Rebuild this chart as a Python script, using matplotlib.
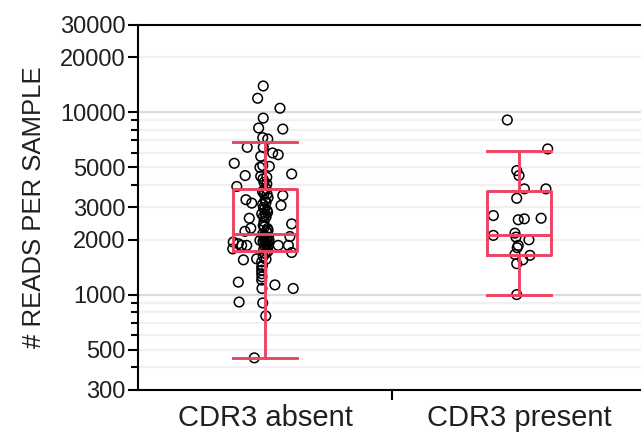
import numpy as np
import matplotlib.pyplot as plt
from matplotlib.ticker import FixedLocator, NullFormatter

plt.rcParams['font.family'] = ['Liberation Sans', 'DejaVu Sans']

categories = ['CDR3 absent', 'CDR3 present']

# reads per sample, with the horizontal jitter
absent_reads = [13900, 11900, 10500, 9270, 8180, 8070, 7240, 7120, 6410, 6410,
                5970, 5840, 5720, 5240, 5090, 5040, 4490, 4580, 4450, 4400,
                4300, 4120, 3910, 4040, 3565, 3310, 3170, 3490, 3080, 3130,
                2770, 2620, 2660, 2310, 2390, 2440, 2220, 2150, 2080, 1940,
                1900, 1860, 1860, 1780, 1980, 1940, 1860, 1860, 1860, 1700,
                1550, 1570, 1510, 1170, 1130, 1080, 910, 900, 764, 450,
                1420, 1360, 1300, 1250, 1200, 1080, 3810, 3670, 3400, 3275,
                3000, 2890, 2750, 2515, 2300, 2220, 2110, 2055, 2005, 1955,
                1905, 1815, 1770, 1725, 1680, 1620, 1560, 1445, 4980,
                2180, 2100, 2030, 1980, 1930, 1880, 2250, 2350,
                3720, 3550, 3200, 2950, 2820, 2680]
absent_jitter = [-0.007, -0.029, 0.059, -0.007, -0.025, 0.070, -0.009, 0.011, -0.070, -0.007,
                 0.030, 0.052, -0.017, -0.121, -0.009, 0.017, -0.078, 0.105, -0.017, 0.007,
                 -0.008, -0.004, -0.111, 0.007, -0.004, -0.075, -0.052, 0.070, 0.063, -0.009,
                 -0.013, -0.062, 0.004, -0.056, -0.007, 0.105, -0.079, -0.009, 0.098, -0.125,
                 -0.105, -0.092, -0.072, -0.127, -0.020, 0.000, 0.013, 0.052, 0.092, 0.105,
                 -0.085, -0.033, -0.013, -0.105, 0.039, 0.111, -0.102, -0.009, 0.003, -0.042,
                 -0.013, -0.013, -0.013, -0.012, -0.013, -0.012, 0.004, -0.010, 0.012, 0.000,
                 -0.006, 0.008, 0.002, -0.004, 0.010, 0.005, -0.002, 0.014, 0.006, -0.008,
                 0.009, 0.002, -0.005, 0.011, 0.000, -0.007, 0.004, -0.010, -0.020,
                 0.010, -0.004, 0.006, 0.016, -0.006, 0.004, 0.012, -0.002,
                 -0.004, 0.008, 0.004, -0.002, 0.010, -0.006]

present_reads = [9050, 6280, 4780, 4490, 3795, 3795, 3370, 2710, 2570, 2600,
                 2620, 2110, 2170, 2065, 1995, 1860, 1807, 1660, 1640, 1550,
                 1477, 1000]
present_jitter = [-0.046, 0.113, -0.009, 0.000, 0.021, 0.106, -0.009, -0.101, -0.003, 0.021,
                  0.087, -0.101, -0.016, -0.012, 0.039, -0.003, -0.007, -0.016, 0.043, 0.015,
                  -0.009, -0.009]

# box statistics (whisker low, q1, median, q3, whisker high)
whis_lo = [449, 1000]
q1 = [1725, 1641]
medians = [2135, 2109]
q3 = [3810, 3717]
whis_hi = [6885, 6147]

yticks_major = [300, 500, 1000, 2000, 3000, 5000, 10000, 20000, 30000]
yticks_minor = [400, 600, 700, 800, 900, 4000, 6000, 7000, 8000, 9000]

red = '#ec4463'
txt = '#231f20'

fig = plt.figure(figsize=(6.41, 4.34), dpi=100)
ax = fig.add_axes([0.2153, 0.1014, 0.7925, 0.841])

ax.scatter(np.array(absent_jitter) + 0, absent_reads, s=48, facecolors='none',
           edgecolors='black', linewidths=1.1, zorder=3)
ax.scatter(np.array(present_jitter) + 1, present_reads, s=48, facecolors='none',
           edgecolors='black', linewidths=1.1, zorder=3)

stats = []
for i in range(2):
    stats.append({'whislo': whis_lo[i], 'q1': q1[i], 'med': medians[i],
                  'q3': q3[i], 'whishi': whis_hi[i], 'fliers': []})
lp = dict(color=red, linewidth=2.1)
ax.bxp(stats, positions=[0, 1], widths=0.25, showfliers=False,
       boxprops=lp, whiskerprops=lp, capprops=lp, medianprops=lp,
       capwidths=0.25, zorder=4)

ax.set_yscale('log')
ax.set_ylim(300, 30000)
ax.set_xlim(-0.5, 1.5)
ax.yaxis.set_major_locator(FixedLocator(yticks_major))
ax.yaxis.set_minor_locator(FixedLocator(yticks_minor))
ax.yaxis.set_minor_formatter(NullFormatter())
ax.set_yticklabels([str(v) for v in yticks_major])

ax.set_xticks([0, 1])
ax.set_xticklabels(categories)
ax.set_xticks([0.5], minor=True)
ax.tick_params(axis='x', which='major', length=0, labelsize=21, colors=txt, pad=10)
ax.tick_params(axis='x', which='minor', length=7, width=1.5, colors='black')
ax.tick_params(axis='y', which='major', length=7, width=1.5, labelsize=17,
               labelcolor=txt, pad=2)
ax.tick_params(axis='y', which='minor', length=5, width=1.5)

ax.yaxis.grid(True, which='both', color='#f1f1f1', linewidth=1.6, zorder=0)
for t in ax.yaxis.get_major_ticks():
    if t.get_loc() in (1000, 10000):
        t.gridline.set_color('#dcdcdc')
ax.set_axisbelow(True)

for s in ['left', 'bottom', 'top']:
    ax.spines[s].set_linewidth(1.5)
ax.spines['right'].set_visible(False)

ax.set_ylabel('# READS PER SAMPLE', fontsize=18.5, color=txt, labelpad=10)

plt.savefig('out.png', dpi=100)
